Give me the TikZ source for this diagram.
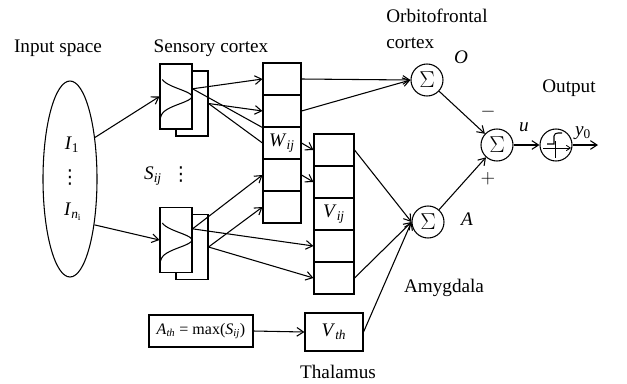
\documentclass[tikz,border=0pt]{standalone}
\usepackage{fontspec}
\setmainfont{Liberation Serif}
\newfontfamily\symfont{DejaVu Sans}
\usetikzlibrary{arrows.meta,shapes.geometric}
\newcommand{\itsub}[2]{\textit{#1}\textsubscript{#2}}

\begin{document}
\begin{tikzpicture}[x=0.75pt, y=-0.75pt,
  every node/.style={font=\Large},
  cell/.style={draw, line width=0.8pt, fill=white, minimum width=28.5pt,
               minimum height=24pt, inner sep=0pt},
  vcell/.style={cell, minimum width=30pt},
  sense/.style={draw, line width=0.8pt, fill=white, minimum width=24pt,
                minimum height=48.75pt, inner sep=0pt},
  sumnode/.style={draw, line width=0.8pt, circle, minimum size=24pt,
                  inner sep=0pt, font=\LARGE},
  tbox/.style={draw, line width=0.8pt, minimum height=24pt, inner sep=2pt},
  link/.style={line width=0.8pt, -{Straight Barb[length=5pt,width=6.5pt]}},
  wire/.style={line width=0.8pt},
  dots/.style={inner sep=0pt, font=\Large\symfont},
]
\useasboundingbox (0,0) rectangle (627,383);

% ---- Input space ----
\node[draw, line width=0.8pt, ellipse, minimum width=40.5pt,
      minimum height=147pt, inner sep=0pt] (inp) at (70,179) {};
\node (i1)        at (72,145) {\itsub{I}{1}};
\node[dots] (idots) at (70,178) {⋮};
\node (in)        at (73,212) {\itsub{I}{\textit{n}\textsubscript{i}}};

% ---- Sensory cortex (back box first) ----
\node[sense] (s1b) at (192,103.5) {};
\node[sense] (s1f) at (176,96.5) {};
\node[sense] (s2b) at (192,247) {};
\node[sense] (s2f) at (176,240) {};
\foreach \s in {s1f,s2f}
  \draw[wire, shift={(\s.center)}]
    plot[domain=-17:21, smooth, samples=25]
      ({-16+32*exp(-1*((\x/10.5)*(\x/10.5)))}, \x);
\node (sij)         at (153,176) {\itsub{S}{\textit{ij}}};
\node[dots] (sdots) at (181,175) {⋮};

% ---- Weight columns ----
\foreach \i/\t in {1/{},2/{},3/{\itsub{W}{\textit{ij}}},4/{},5/{}}
  \node[cell] (w\i) at (282,{47+32*\i}) {\t};
\foreach \i/\t in {1/{},2/{},3/{\itsub{V}{\textit{ij}}},4/{},5/{}}
  \node[vcell] (v\i) at (334,{118+32*\i}) {\t};

% ---- Summing nodes and output ----
\node[sumnode] (sumO) at (427,80)  {$\Sigma$};
\node[sumnode] (sumA) at (428,222) {$\Sigma$};
\node[sumnode] (sumM) at (497,145) {$\Sigma$};
\node[sumnode] (act)  at (556,145) {};
\coordinate (out) at (598,145);

% ---- Thalamus ----
\node[tbox, minimum width=78pt, font=\large] (athr) at (201,331)
  {\itsub{A}{\textit{th}} = max(\itsub{S}{\textit{ij}})};
\node[tbox, minimum width=43.5pt, minimum height=28.5pt] (vth) at (334,332)
  {\itsub{V}{\textit{th}}};

% ---- Labels ----
\node (linp)  at (58,48)  {Input space};
\node (lsens) at (211,48) {Sensory cortex};
\node[align=left, anchor=north west, inner sep=0pt,
      font=\fontsize{14.4}{19.5}\selectfont] (lorb) at (386,9) {Orbitofrontal\\cortex};
\node (lO)     at (461,57)  {\textit{O}};
\node (lout)   at (569,88)  {Output};
\node (lu)     at (524,127) {\textit{u}};
\node (ly)     at (583,133) {\itsub{y}{0}};
\node (lminus) at (488,112) {$-$};
\node (lplus)  at (488,179) {$+$};
\node (lA)     at (467,219) {\textit{A}};
\node (lamy)   at (444,288) {Amygdala};
\node (ltha)   at (338,372) {Thalamus};

% ---- Connections ----
\foreach \a/\b in {inp.59/s1f.west, inp.-62/s2f.west,
                   s1f.25/w1.west, s1b.east/w2.west,
                   s2f.34/w4.west, s2f.34/v4.west,
                   s2b.east/w5.west, s2b.east/v5.west,
                   w3.east/v1.west, w4.east/v2.west,
                   w1.east/sumO.west, w2.east/sumO.west,
                   v1.east/sumA.west, v5.east/sumA.west, vth.east/sumA.west,
                   athr.east/vth.west,
                   sumO/sumM, sumA/sumM, sumM/act, act/out}
  \draw[link] (\a) -- (\b);
\draw[wire] (s1f.25) -- (w2.south west);
\draw[wire] (s1b.east) -- (w3.west);

% ---- step function glyph ----
\begin{scope}[shift={(act.center)}]
  \draw[line width=0.6pt, -{Straight Barb[length=3pt,width=4pt]}] (-13,3) -- (15,3);
  \draw[line width=0.6pt] (-1,-4) -- (-1,13);
  \draw[line width=0.8pt] (-9,-1) -- (-2,-1) -- (-2,-9)
    to[out=90,in=180] (2,-12) -- (6,-12);
\end{scope}
\end{tikzpicture}
\end{document}
